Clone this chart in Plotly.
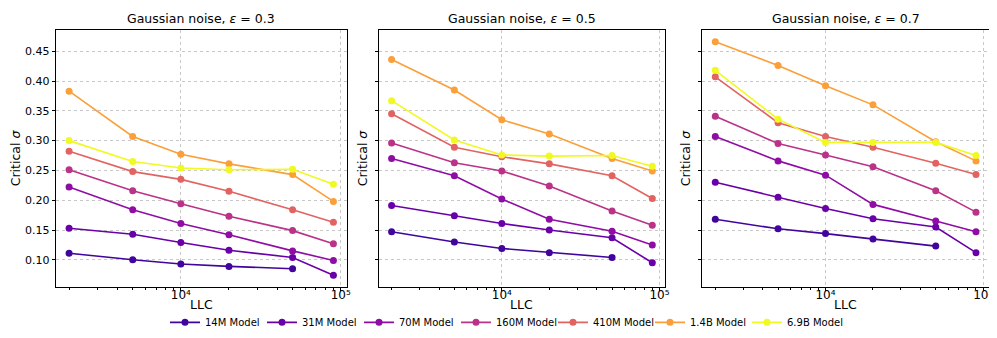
import plotly.graph_objects as go

# LLC values (x axis, log scale)
llc = [2000, 5000, 10000, 20000, 50000, 90000]

models = ["14M Model", "31M Model", "70M Model", "160M Model", "410M Model", "1.4B Model", "6.9B Model"]
colors = ["#41049d", "#6a00a8", "#8f0da4", "#ba3388", "#e16462", "#fb9f3a", "#f0f921"]

eps_titles = ["0.3", "0.5", "0.7"]

# critical sigma, one list per model, per panel
eps03 = [
    [0.111, 0.100, 0.093, 0.089, 0.085, None],
    [0.153, 0.143, 0.129, 0.116, 0.104, 0.074],
    [0.222, 0.184, 0.161, 0.142, 0.115, 0.099],
    [0.251, 0.216, 0.194, 0.173, 0.149, 0.127],
    [0.282, 0.248, 0.235, 0.215, 0.184, 0.163],
    [0.383, 0.307, 0.277, 0.261, 0.243, 0.198],
    [0.300, 0.265, 0.254, 0.251, 0.252, 0.227],
]
eps05 = [
    [0.147, 0.130, 0.119, 0.112, 0.104, None],
    [0.191, 0.174, 0.161, 0.150, 0.137, 0.095],
    [0.270, 0.241, 0.202, 0.168, 0.148, 0.125],
    [0.296, 0.263, 0.249, 0.224, 0.182, 0.158],
    [0.345, 0.289, 0.273, 0.261, 0.241, 0.203],
    [0.436, 0.385, 0.335, 0.311, 0.270, 0.249],
    [0.367, 0.301, 0.276, 0.274, 0.275, 0.257],
]
eps07 = [
    [0.168, 0.152, 0.144, 0.135, 0.123, None],
    [0.230, 0.205, 0.186, 0.169, 0.155, 0.112],
    [0.307, 0.266, 0.242, 0.193, 0.165, 0.147],
    [0.341, 0.295, 0.276, 0.256, 0.216, 0.180],
    [0.407, 0.330, 0.307, 0.289, 0.262, 0.243],
    [0.466, 0.426, 0.392, 0.360, 0.298, 0.266],
    [0.418, 0.336, 0.297, 0.297, 0.297, 0.275],
]
panels = [eps03, eps05, eps07]

yticks = [0.10, 0.15, 0.20, 0.25, 0.30, 0.35, 0.40, 0.45]
xticks = [1e4, 1e5]
xticklabels = ["10⁴", "10⁵"]
minor_x = [2000, 3000, 4000, 5000, 6000, 7000, 8000, 9000,
           20000, 30000, 40000, 50000, 60000, 70000, 80000, 90000]

W, H = 997, 338
xdomains = [(48 / W, 340 / W), (372 / W, 660 / W), (697 / W, 985 / W)]
ydomain = (1 - 279 / H, 1 - 22 / H)

font = "DejaVu Sans, Verdana, sans-serif"

fig = go.Figure()

for p, data in enumerate(panels):
    suffix = "" if p == 0 else str(p + 1)
    for i, name in enumerate(models):
        fig.add_trace(go.Scatter(
            x=llc, y=data[i], name=name,
            mode="lines+markers",
            line=dict(color=colors[i], width=1.6),
            marker=dict(color=colors[i], size=7),
            xaxis="x" + suffix, yaxis="y" + suffix,
            showlegend=(p == 0),
            legendgroup=name,
        ))

axis_common = dict(
    showline=True, linecolor="black", linewidth=1, mirror=True,
    showgrid=True, gridcolor="#c8c8c8", griddash="dot", gridwidth=0.8,
    zeroline=False, ticks="outside", ticklen=3, tickcolor="black",
    tickfont=dict(family=font, size=11, color="black"),
)

layout = dict(
    width=W, height=H,
    margin=dict(l=0, r=0, t=0, b=0),
    paper_bgcolor="white", plot_bgcolor="white",
    font=dict(family=font, color="black"),
    legend=dict(orientation="h", x=0.5, xanchor="center", y=0.07, yanchor="middle",
                font=dict(size=10, family=font), itemwidth=30, tracegroupgap=0,
                entrywidth=52, entrywidthmode="pixels"),
    annotations=[],
)

for p in range(3):
    suffix = "" if p == 0 else str(p + 1)
    layout["xaxis" + suffix] = dict(
        axis_common, type="log", domain=list(xdomains[p]),
        range=[3.218, 5.037], anchor="y" + suffix,
        tickvals=xticks, ticktext=xticklabels, ticklabelstandoff=-6,
        tickfont=dict(family=font, size=12, color="black"),
        minor=dict(ticks="outside", ticklen=2, tickcolor="black", tickvals=minor_x, showgrid=False),
    )
    layout["yaxis" + suffix] = dict(
        axis_common, domain=list(ydomain), range=[0.0544, 0.4856],
        anchor="x" + suffix, tickvals=yticks, tickformat=".2f",
        showticklabels=(p == 0),
        title=dict(text="Critical <i>σ</i>", font=dict(size=12.5, family=font),
                   standoff=6 if p == 0 else 4),
    )
    xmid = (xdomains[p][0] + xdomains[p][1]) / 2
    layout["annotations"].append(dict(
        text="Gaussian noise, <i>ε</i> = " + eps_titles[p],
        xref="paper", yref="paper", x=xmid, y=1 - 10 / H,
        xanchor="center", yanchor="middle", showarrow=False,
        font=dict(size=12.5, family=font, color="black"),
    ))
    layout["annotations"].append(dict(
        text="LLC", xref="paper", yref="paper", x=xmid, y=1 - 296 / H,
        xanchor="center", yanchor="middle", showarrow=False,
        font=dict(size=12.5, family=font, color="black"),
    ))

fig.update_layout(layout)
fig.write_html("out.html")
